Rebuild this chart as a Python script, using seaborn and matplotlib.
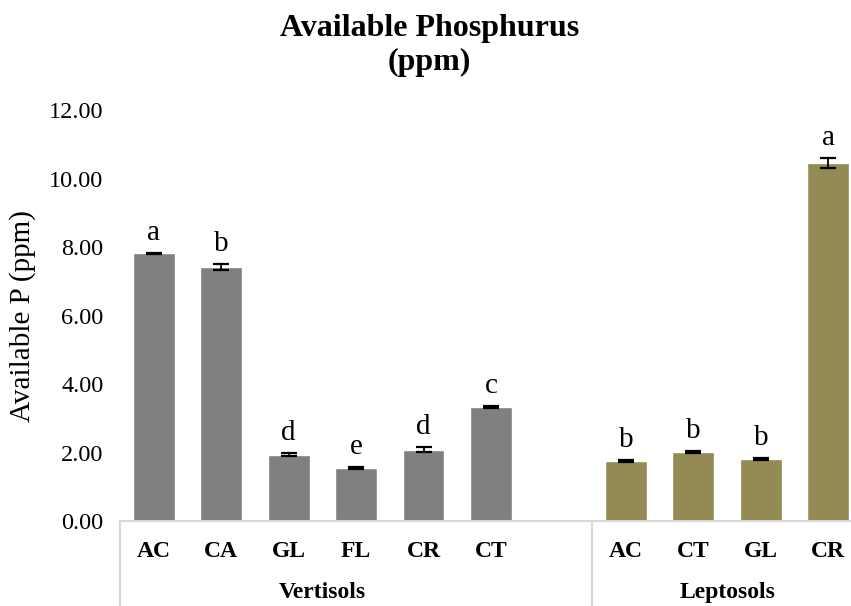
import pandas as pd
import numpy as np
import matplotlib
matplotlib.use("Agg")
import matplotlib.pyplot as plt
import matplotlib.transforms as mtransforms
import seaborn as sns

# datos
soils = ["Vertisols"] * 6 + ["Leptosols"] * 4
uses = ["AC", "CA", "GL", "FL", "CR", "CT", "AC", "CT", "GL", "CR"]
avail_p = [7.82, 7.42, 1.94, 1.55, 2.09, 3.33, 1.76, 2.03, 1.82, 10.46]
p_err = [0.02, 0.09, 0.05, 0.03, 0.08, 0.03, 0.03, 0.03, 0.03, 0.14]
letters = ["a", "b", "d", "e", "d", "c", "b", "b", "b", "a"]
group_names = ["Vertisols", "Leptosols"]
group_colors = {"Vertisols": "#808080", "Leptosols": "#948A54"}

df = pd.DataFrame({"soil": soils, "use": uses, "p": avail_p, "err": p_err, "letter": letters})
df["key"] = df["soil"] + " " + df["use"]
order = list(df["key"][:6]) + ["gap"] + list(df["key"][6:])

sns.set_style("white")
plt.rcParams["font.family"] = ["Liberation Serif", "DejaVu Serif"]
plt.rcParams["text.color"] = "black"
plt.rcParams["xtick.color"] = "black"
plt.rcParams["ytick.color"] = "black"
plt.rcParams["axes.labelcolor"] = "black"

fig = plt.figure(figsize=(8.51, 6.06), dpi=100)
ax = fig.add_axes([0.141, 0.140, 0.872, 0.6785])

sns.barplot(data=df, x="key", y="p", hue="soil", order=order, palette=group_colors,
            width=0.62, dodge=False, saturation=1, legend=False, ax=ax)

# barras de error y letras
for bar_patch in ax.patches:
    h = bar_patch.get_height()
    if h == 0 or np.isnan(h):
        continue
    cx = bar_patch.get_x() + bar_patch.get_width() / 2
    row = df.iloc[int(np.argmin(np.abs(df["p"].values - h)))]
    ax.errorbar(cx, row["p"], yerr=row["err"], fmt="none", ecolor="black",
                elinewidth=1.3, capsize=5.5, capthick=1.6)
    ax.annotate(row["letter"], (cx, row["p"] + row["err"]), xytext=(0, 5),
                textcoords="offset points", ha="center", va="bottom", fontsize=21)

ax.set_xlim(-0.5, 10.5)
ax.set_ylim(0, 12)
ax.set_yticks(np.arange(0, 12.1, 2))
ax.set_yticklabels([f"{v:.2f}" for v in np.arange(0, 12.1, 2)], fontsize=17.5)
ax.set_xticks(range(len(order)))
ax.set_xticklabels(list(df["use"][:6]) + [""] + list(df["use"][6:]),
                   fontsize=17, fontweight="bold")
ax.tick_params(axis="x", length=0, pad=14)
ax.tick_params(axis="y", length=0, pad=12)
ax.set_xlabel("")
ax.set_ylabel("Available P (ppm)", fontsize=21, labelpad=9)

sns.despine(ax=ax, left=True)
ax.spines["bottom"].set_color("#d9d9d9")
ax.spines["bottom"].set_linewidth(1.5)

# separadores de grupo y nombres de grupo
trans = mtransforms.blended_transform_factory(ax.transData, ax.transAxes)
for xs in [-0.5, 6.5, 10.5]:
    ax.plot([xs, xs], [0, -0.25], color="#d9d9d9", lw=1.5, transform=trans, clip_on=False)
ax.text(2.5, -0.173, group_names[0], transform=trans, ha="center", va="center",
        fontsize=17, fontweight="bold")
ax.text(8.5, -0.173, group_names[1], transform=trans, ha="center", va="center",
        fontsize=17, fontweight="bold")

fig.text(0.505, 0.925, "Available Phosphurus\n(ppm)", ha="center", va="center",
         fontsize=23, fontweight="bold", linespacing=1.2)

fig.savefig("out.png", dpi=100)
